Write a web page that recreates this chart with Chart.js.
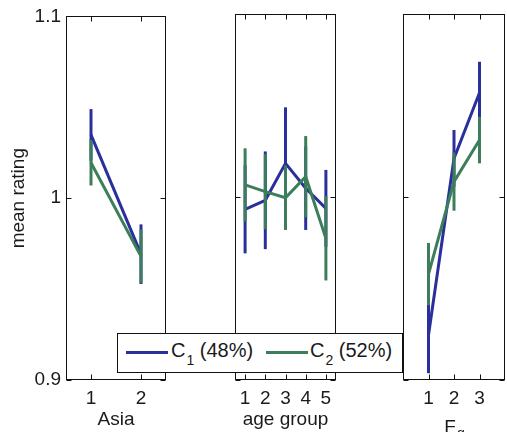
<!DOCTYPE html>
<html>
<head>
<meta charset="utf-8">
<script src="https://cdn.jsdelivr.net/npm/chart.js@4.4.1/dist/chart.umd.min.js"></script>
<style>
  html, body { margin: 0; padding: 0; background: #fff; }
  #wrap { position: relative; width: 507px; height: 432px; overflow: hidden;
          font-family: "Liberation Sans", Arial, Helvetica, sans-serif; color: #1a1a1a; }
  #wrap canvas { position: absolute; left: 0; top: 0; }
  #legend { position: absolute; left: 117px; top: 333px; width: 284px; height: 38px;
            border: 1px solid #111; background: #fff; }
  #legend .swatch { position: absolute; top: 17px; width: 42px; height: 3px; }
  #legend .lab { position: absolute; top: 6px; font-size: 20px; line-height: 20px; white-space: nowrap; }
  #legend sub { font-size: 14px; position: relative; top: 8px; vertical-align: baseline; margin-left: 1px; }
</style>
</head>
<body>
<div id="wrap">
  <canvas id="pAsia" width="507" height="432"></canvas>
  <canvas id="pAge" width="507" height="432"></canvas>
  <canvas id="pFg" width="507" height="432"></canvas>
  <div id="legend">
    <span class="swatch" id="sw1" style="left:8px"></span>
    <span class="lab" style="left:53px">C<sub>1</sub> (48%)</span>
    <span class="swatch" id="sw2" style="left:148px"></span>
    <span class="lab" style="left:192px">C<sub>2</sub> (52%)</span>
  </div>
</div>
<script>
// Shared value axis
const yTicks = [0.9, 1.0, 1.1];
const yTickLabels = ['0.9', '1', '1.1'];
const seriesNames = ['C1 (48%)', 'C2 (52%)'];
const seriesColors = ['#2a2f9c', '#3c7e5a'];

// Asia
const asiaGroups = [1, 2];
const asiaC1 = [1.0348, 0.9692];
const asiaC1Err = [0.0142, 0.0164];
const asiaC2 = [1.0195, 0.9680];
const asiaC2Err = [0.0125, 0.0148];

// age group
const ageGroups = [1, 2, 3, 4, 5];
const ageC1 = [0.9933, 0.9982, 1.0184, 1.0048, 0.9938];
const ageC1Err = [0.0241, 0.0267, 0.0306, 0.0228, 0.0210];
const ageC2 = [1.0066, 1.0029, 0.9996, 1.0111, 0.9774];
const ageC2Err = [0.0200, 0.0205, 0.0176, 0.0222, 0.0230];

// F_g
const fgGroups = [1, 2, 3];
const fgC1 = [0.9246, 1.0211, 1.0570];
const fgC1Err = [0.0209, 0.0155, 0.0169];
const fgC2 = [0.9579, 1.0084, 1.0311];
const fgC2Err = [0.0170, 0.0159, 0.0127];

const FONT = '"Liberation Sans", Arial, Helvetica, sans-serif';
const TEXT = '#1a1a1a';

document.getElementById('sw1').style.background = seriesColors[0];
document.getElementById('sw2').style.background = seriesColors[1];

// Error bars after each series, then the box with inward ticks and the x title
function panelPlugin(errors, title) {
  return {
    id: 'panelDecor',
    afterDatasetDraw(chart, args) {
      const ds = chart.data.datasets[args.index];
      const xs = chart.scales.x, ys = chart.scales.y;
      const ctx = chart.ctx;
      ctx.save();
      ctx.strokeStyle = ds.borderColor;
      ctx.lineWidth = ds.borderWidth;
      ctx.lineCap = 'butt';
      ds.data.forEach((p, i) => {
        const e = errors[args.index][i];
        const px = xs.getPixelForValue(p.x);
        ctx.beginPath();
        ctx.moveTo(px, ys.getPixelForValue(p.y - e));
        ctx.lineTo(px, ys.getPixelForValue(p.y + e));
        ctx.stroke();
      });
      ctx.restore();
    },
    afterDraw(chart) {
      const a = chart.chartArea;
      const xs = chart.scales.x, ys = chart.scales.y;
      const ctx = chart.ctx;
      ctx.save();
      ctx.strokeStyle = '#111';
      ctx.lineWidth = 1;
      const L = Math.round(a.left) + 0.5, R = Math.round(a.right) - 0.5;
      const T = Math.round(a.top) + 0.5, B = Math.round(a.bottom) - 0.5;
      ctx.strokeRect(L, T, R - L, B - T);
      const tl = 5;
      ctx.beginPath();
      chart.data.labels.forEach(v => {
        const px = Math.round(xs.getPixelForValue(v)) + 0.5;
        ctx.moveTo(px, T); ctx.lineTo(px, T + tl);
        ctx.moveTo(px, B); ctx.lineTo(px, B - tl);
      });
      yTicks.forEach(v => {
        const py = Math.round(ys.getPixelForValue(v)) + 0.5;
        ctx.moveTo(L, py); ctx.lineTo(L + tl, py);
        ctx.moveTo(R, py); ctx.lineTo(R - tl, py);
      });
      ctx.stroke();
      // x-axis title
      const cx = (a.left + a.right) / 2;
      ctx.fillStyle = TEXT;
      ctx.textBaseline = 'alphabetic';
      if (title.sub) {
        ctx.font = '19px ' + FONT;
        const w1 = ctx.measureText(title.main).width;
        ctx.font = '14px ' + FONT;
        const w2 = ctx.measureText(title.sub).width;
        const x0 = cx - (w1 + w2) / 2;
        ctx.font = '19px ' + FONT;
        ctx.textAlign = 'left';
        ctx.fillText(title.main, x0, a.bottom + 53);
        ctx.font = '14px ' + FONT;
        ctx.fillText(title.sub, x0 + w1 + 1, a.bottom + 58);
      } else {
        ctx.font = '19px ' + FONT;
        ctx.textAlign = 'center';
        ctx.fillText(title.main, cx, a.bottom + 45);
      }
      ctx.restore();
    }
  };
}

function makePanel(id, groups, c1, c1e, c2, c2e, xMin, xMax, pad, showY, title) {
  const pts = arr => groups.map((g, i) => ({ x: g, y: arr[i] }));
  return new Chart(document.getElementById(id), {
    type: 'line',
    data: {
      labels: groups,
      datasets: [
        { label: seriesNames[0], data: pts(c1), borderColor: seriesColors[0], borderWidth: 3,
          pointRadius: 0, tension: 0, fill: false, order: 2 },
        { label: seriesNames[1], data: pts(c2), borderColor: seriesColors[1], borderWidth: 3,
          pointRadius: 0, tension: 0, fill: false, order: 1 }
      ]
    },
    options: {
      responsive: false,
      animation: false,
      devicePixelRatio: 1,
      events: [],
      layout: { padding: { left: pad.left, right: pad.right, top: 14, bottom: 0 } },
      plugins: { legend: { display: false }, tooltip: { enabled: false } },
      scales: {
        x: {
          type: 'linear', min: xMin, max: xMax,
          grid: { display: false, drawTicks: false }, border: { display: false },
          afterBuildTicks: s => { s.ticks = groups.map(v => ({ value: v })); },
          afterFit: s => { s.height = 52; },
          ticks: { autoSkip: false, maxRotation: 0, padding: 7, color: TEXT,
                   font: { family: FONT, size: 19 } }
        },
        y: {
          type: 'linear', min: 0.9, max: 1.1, display: showY,
          grid: { display: false, drawTicks: false }, border: { display: false },
          afterBuildTicks: s => { s.ticks = yTicks.map(v => ({ value: v })); },
          afterFit: s => { s.width = showY ? 66 : 0; },
          ticks: { padding: 5, color: TEXT, font: { family: FONT, size: 19 },
                   callback: (v, i) => yTickLabels[i] },
          title: { display: showY, text: 'mean rating', color: TEXT,
                   font: { family: FONT, size: 19 }, padding: { top: 7, bottom: 0 } }
        }
      }
    },
    plugins: [panelPlugin([c1e, c2e], title)]
  });
}

makePanel('pAsia', asiaGroups, asiaC1, asiaC1Err, asiaC2, asiaC2Err, 0.5, 2.5,
          { left: 0, right: 341 }, true, { main: 'Asia' });
makePanel('pAge', ageGroups, ageC1, ageC1Err, ageC2, ageC2Err, 0.5, 5.5,
          { left: 235, right: 171 }, false, { main: 'age group' });
makePanel('pFg', fgGroups, fgC1, fgC1Err, fgC2, fgC2Err, 0, 4,
          { left: 403, right: 2 }, false, { main: 'F', sub: 'g' });
</script>
</body>
</html>
